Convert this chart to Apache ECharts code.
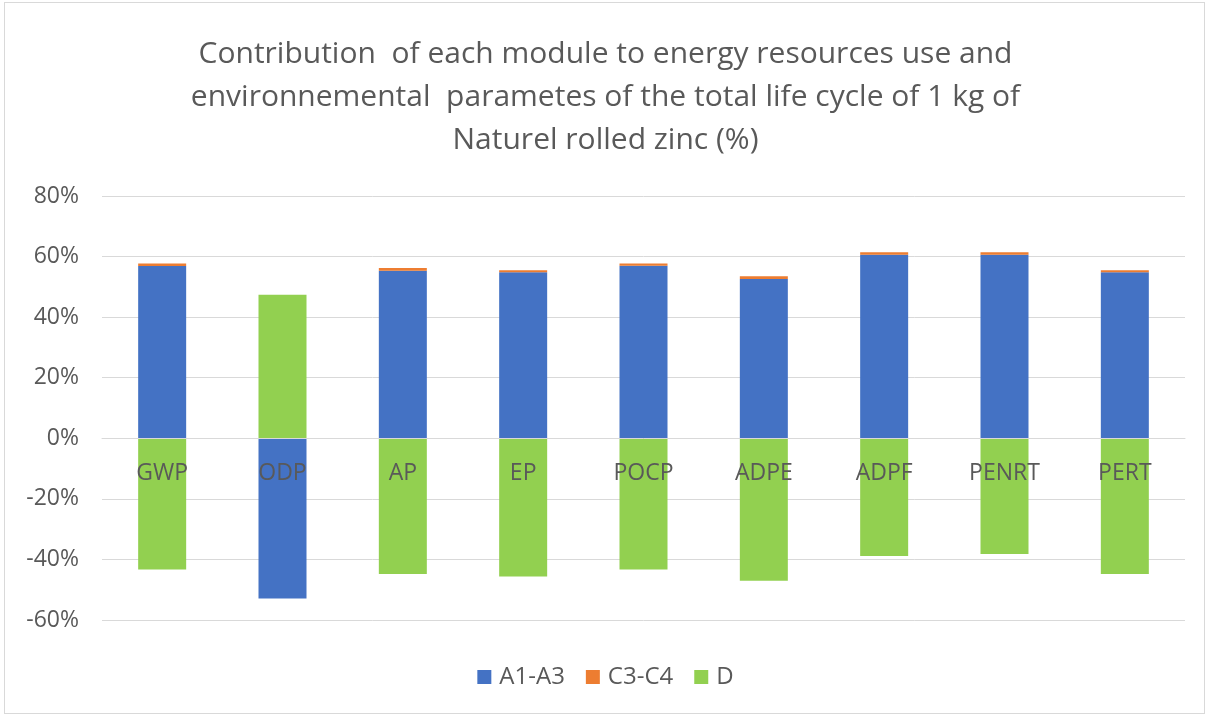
<!DOCTYPE html>
<html><head><meta charset="utf-8">
<script src="https://cdn.jsdelivr.net/npm/echarts@6/dist/echarts.min.js"></script>
<style>
html,body{margin:0;padding:0;background:#fff;}
#wrap{position:absolute;left:4px;top:2px;width:1201px;height:712px;border:1px solid #d9d9d9;box-sizing:border-box;}
#c{position:absolute;left:0;top:0;width:1211px;height:718px;}
</style></head>
<body>
<div id="wrap"></div>
<div id="c"></div>
<script>
const categories = ['GWP','ODP','AP','EP','POCP','ADPE','ADPF','PENRT','PERT'];
const a1a3 = [56.9, -52.9, 55.3, 54.8, 57.0, 52.6, 60.6, 60.6, 54.8];
const c3c4 = [0.8, 0, 0.9, 0.7, 0.7, 0.9, 0.8, 0.8, 0.7];
const dMod = [-43.3, 47.4, -44.8, -45.6, -43.3, -47.0, -38.9, -38.2, -44.8];
const yTicks = [-60, -40, -20, 0, 20, 40, 60, 80];
const titleText = 'Contribution  of each module to energy resources use and\nenvironnemental  parametes of the total life cycle of 1 kg of\nNaturel rolled zinc (%)';

const font = '"Open Sans", "Noto Sans", sans-serif';
const chart = echarts.init(document.getElementById('c'), null, {renderer:'canvas'});
chart.setOption({
  animation:false,
  textStyle:{fontFamily:font},
  title:{
    text:titleText, left:'center', top:28,
    textStyle:{fontFamily:font, fontSize:30, fontWeight:'normal', color:'#595959', lineHeight:43}
  },
  legend:{
    bottom:24, left:'center', itemWidth:14, itemHeight:14, itemGap:21, icon:'rect',
    textStyle:{fontFamily:font, fontSize:24, color:'#595959', padding:[0,0,0,3]},
    data:['A1-A3','C3-C4','D']
  },
  grid:{left:102, right:26, top:196, bottom:98, containLabel:false},
  xAxis:{
    type:'category', data:categories, z:10,
    axisLine:{onZero:true, lineStyle:{color:'#d9d9d9', width:1}},
    axisTick:{show:false},
    axisLabel:{fontFamily:font, fontSize:23, color:'#595959', margin:-158}
  },
  yAxis:{
    type:'value', min:yTicks[0], max:yTicks[yTicks.length-1], interval:20,
    axisLine:{show:false}, axisTick:{show:false},
    splitLine:{lineStyle:{color:'#d9d9d9', width:1}},
    axisLabel:{fontFamily:font, fontSize:23, color:'#595959', margin:23, formatter:v=>v+'%'}
  },
  series:[
    {name:'A1-A3', type:'bar', stack:'s', data:a1a3, barWidth:48, itemStyle:{color:'#4472C4'}},
    {name:'C3-C4', type:'bar', stack:'s', data:c3c4, barWidth:48, itemStyle:{color:'#ED7D31'}},
    {name:'D', type:'bar', stack:'s', data:dMod, barWidth:48, itemStyle:{color:'#92D050'}}
  ]
});
</script>
</body></html>
